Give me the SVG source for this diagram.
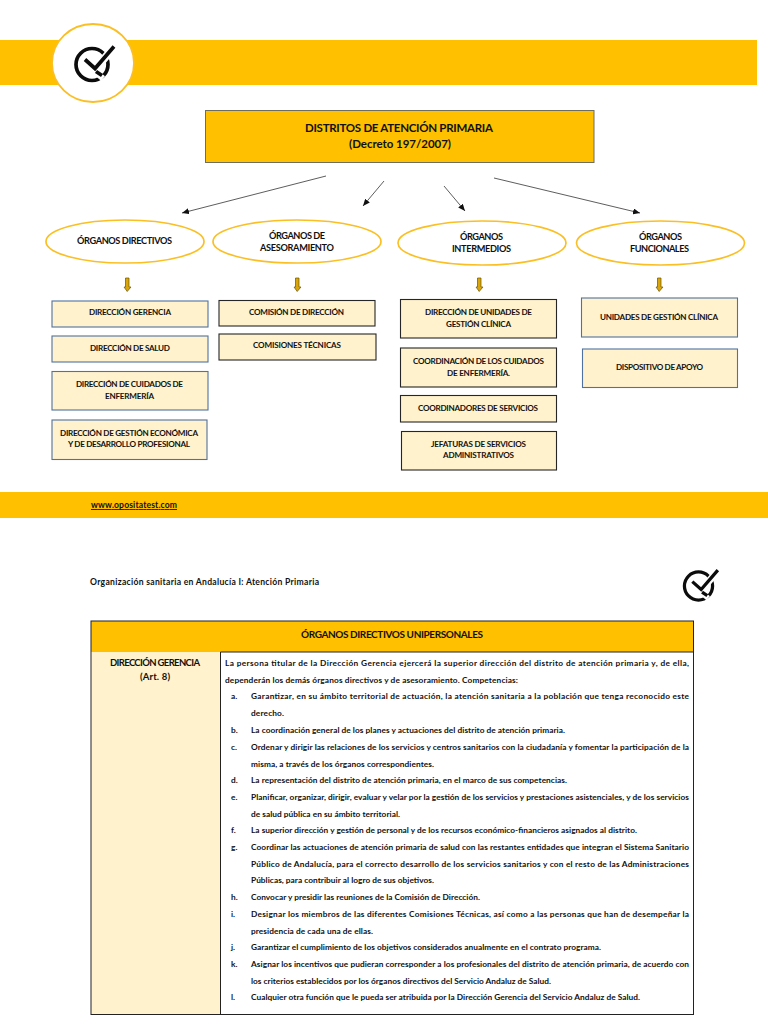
<svg xmlns="http://www.w3.org/2000/svg" width="768" height="1024" viewBox="0 0 768 1024">
<style>
text{font-family:"Lato","Carlito","Liberation Sans",sans-serif;fill:#111}
.band{fill:#ffc000}
.oval{fill:#fff;stroke:#fbbf24;stroke-width:1.700}
.box{fill:#fff2cc;stroke-width:1.100}
.blue{stroke:#4f72a0}
.dark{stroke:#262626}
.l{font-size:8.3px;font-weight:700}
.o{font-size:9.2px;font-weight:700}
.t{font-size:11.5px;font-weight:700}
.b{font-size:8.1px;font-weight:700}
.link{fill:none;stroke:#333;stroke-width:.8;marker-end:url(#tip)}
.drop{fill:#d9a50b;stroke:#6b5300;stroke-width:.7}
.logo{fill:none;stroke:#0c0c0c;stroke-width:3.700}
</style>
<defs>
<marker id="tip" markerWidth="8" markerHeight="6" refX="7" refY="3" orient="auto" markerUnits="userSpaceOnUse"><path d="M0 0L7 3L0 6z" fill="#111"/></marker>
<g id="check"><circle class="logo" cx="0" cy="0" r="16"/><path d="M-6-4L3 5L24-20" fill="none" stroke="#fff" stroke-width="8"/><path d="M4 8L11 14" fill="none" stroke="#fff" stroke-width="6"/><path class="logo" d="M-7-5L3 4L22-18M4 7L10 11"/></g>
</defs>

<rect class="band" x="0" y="40" width="757" height="45"/>
<rect class="band" x="0" y="492" width="768" height="26"/>
<g id="logo-top"><ellipse cx="93" cy="63" rx="41" ry="39" fill="#fff" stroke="#fbbf24" stroke-width="1.800"/><use href="#check" transform="translate(92 64.500)"/></g>

<g id="title"><rect x="205.500" y="110.500" width="388.500" height="52" fill="#ffc000" stroke="#6e6e5e" stroke-width="1"/>
<text class="t" x="305" y="132" textLength="188">DISTRITOS DE ATENCIÓN PRIMARIA</text>
<text class="t" x="349" y="148" textLength="102">(Decreto 197/2007)</text></g>

<g id="connectors">
<path class="link" d="M326 176L182 213"/><path class="link" d="M384 181L363 206"/><path class="link" d="M444 186L465 211"/><path class="link" d="M494 178L640 213"/>
<path class="drop" d="M125.500 278H129V287H131L127.200 291.500L124 287H125.500z"/>
<path class="drop" d="M295.500 278H299V287H301L297.200 291.500L294 287H295.500z"/>
<path class="drop" d="M477.500 278H481V287H483L479.200 291.500L476 287H477.500z"/>
<path class="drop" d="M657.500 278H661V287H663L659.200 291.500L656 287H657.500z"/>
</g>

<g id="org-directivos"><ellipse class="oval" cx="125" cy="241.500" rx="79" ry="21.500"/><text class="o" x="77" y="244" textLength="95">ÓRGANOS DIRECTIVOS</text></g>
<g id="org-asesoramiento"><ellipse class="oval" cx="297" cy="241.500" rx="84" ry="21.500"/><text class="o" x="269" y="239" textLength="56">ÓRGANOS DE</text><text class="o" x="260" y="251" textLength="74">ASESORAMIENTO</text></g>
<g id="org-intermedios"><ellipse class="oval" cx="482" cy="243" rx="84" ry="22"/><text class="o" x="460" y="240" textLength="43">ÓRGANOS</text><text class="o" x="452" y="252" textLength="59">INTERMEDIOS</text></g>
<g id="org-funcionales"><ellipse class="oval" cx="660.500" cy="243" rx="84" ry="22"/><text class="o" x="639" y="240" textLength="43">ÓRGANOS</text><text class="o" x="630" y="252" textLength="59">FUNCIONALES</text></g>

<g id="d-gerencia"><rect class="box blue" x="52" y="301" width="156" height="26"/><text class="b" x="89" y="315" textLength="82">DIRECCIÓN GERENCIA</text></g>
<g id="d-salud"><rect class="box blue" x="52" y="336" width="156" height="26"/><text class="b" x="90" y="351" textLength="80">DIRECCIÓN DE SALUD</text></g>
<g id="d-cuidados"><rect class="box blue" x="52" y="371.500" width="156" height="38.500"/><text class="b" x="76" y="387" textLength="107">DIRECCIÓN DE CUIDADOS DE</text><text class="b" x="105" y="398.500" textLength="49">ENFERMERÍA</text></g>
<g id="d-gestion"><rect class="box blue" x="52" y="420" width="155" height="39.500"/><text class="b" x="60" y="435.500" textLength="138">DIRECCIÓN DE GESTIÓN ECONÓMICA</text><text class="b" x="68" y="447" textLength="122">Y DE DESARROLLO PROFESIONAL</text></g>
<g id="a-comision"><rect class="box dark" x="219" y="300.500" width="156" height="25.500"/><text class="b" x="249" y="315" textLength="95">COMISIÓN DE DIRECCIÓN</text></g>
<g id="a-tecnicas"><rect class="box dark" x="219" y="334" width="157" height="26"/><text class="b" x="253" y="348" textLength="88">COMISIONES TÉCNICAS</text></g>
<g id="i-unidades"><rect class="box dark" x="400.500" y="299.500" width="156" height="38.500"/><text class="b" x="425" y="315" textLength="107">DIRECCIÓN DE UNIDADES DE</text><text class="b" x="446" y="327" textLength="65">GESTIÓN CLÍNICA</text></g>
<g id="i-coordinacion"><rect class="box dark" x="400.500" y="348" width="156" height="39"/><text class="b" x="413" y="364" textLength="131">COORDINACIÓN DE LOS CUIDADOS</text><text class="b" x="447" y="376" textLength="63">DE ENFERMERÍA.</text></g>
<g id="i-coordinadores"><rect class="box dark" x="400.500" y="395.500" width="156" height="26.500"/><text class="b" x="418" y="411" textLength="120">COORDINADORES DE SERVICIOS</text></g>
<g id="i-jefaturas"><rect class="box dark" x="401.500" y="431.500" width="155" height="38.500"/><text class="b" x="431" y="447" textLength="95">JEFATURAS DE SERVICIOS</text><text class="b" x="443" y="458" textLength="71">ADMINISTRATIVOS</text></g>
<g id="f-unidades"><rect class="box blue" x="581.500" y="298" width="156" height="39"/><text class="b" x="600" y="319.500" textLength="118">UNIDADES DE GESTIÓN CLÍNICA</text></g>
<g id="f-dispositivo"><rect class="box blue" x="582.500" y="349" width="155" height="38.500"/><text class="b" x="616" y="370" textLength="87">DISPOSITIVO DE APOYO</text></g>

<text x="91" y="508" font-size="8.600" font-weight="700" text-decoration="underline" textLength="86">www.opositatest.com</text>
<text x="90" y="585" font-size="8.600" font-weight="700" textLength="229">Organización sanitaria en Andalucía I: Atención Primaria</text>
<g id="logo-page"><use href="#check" transform="translate(698.500 586) scale(.88)"/></g>

<g id="table">
<rect x="91" y="621" width="602.500" height="31" fill="#ffc000"/>
<rect x="91" y="652" width="129.500" height="362.500" fill="#fff2cc"/>
<rect x="220.500" y="652" width="473" height="362.500" fill="#fff"/>
<rect x="91" y="621" width="602.500" height="393.500" fill="none" stroke="#222" stroke-width="1"/>
<path d="M220.500 652H693.500M220.500 652V1014.500" fill="none" stroke="#222" stroke-width="1"/>
<text x="301" y="637.500" font-size="10" font-weight="700" textLength="182">ÓRGANOS DIRECTIVOS UNIPERSONALES</text>
<text x="110" y="666" font-size="9.500" font-weight="700" textLength="90">DIRECCIÓN GERENCIA</text>
<text x="140" y="680" font-size="9.500" font-weight="700" textLength="30">(Art. 8)</text>
<g class="lines">
<text class="l" x="225" y="666" textLength="464">La persona titular de la Dirección Gerencia ejercerá la superior dirección del distrito de atención primaria y, de ella,</text>
<text class="l" x="225" y="683" textLength="293">dependerán los demás órganos directivos y de asesoramiento. Competencias:</text>
<text class="l" x="231" y="699">a.</text><text class="l" x="251" y="699" textLength="438">Garantizar, en su ámbito territorial de actuación, la atención sanitaria a la población que tenga reconocido este</text>
<text class="l" x="251" y="716" textLength="33">derecho.</text>
<text class="l" x="231" y="733">b.</text><text class="l" x="251" y="733" textLength="314">La coordinación general de los planes y actuaciones del distrito de atención primaria.</text>
<text class="l" x="231" y="750">c.</text><text class="l" x="251" y="750" textLength="438">Ordenar y dirigir las relaciones de los servicios y centros sanitarios con la ciudadanía y fomentar la participación de la</text>
<text class="l" x="251" y="767" textLength="183">misma, a través de los órganos correspondientes.</text>
<text class="l" x="231" y="783">d.</text><text class="l" x="251" y="783" textLength="316">La representación del distrito de atención primaria, en el marco de sus competencias.</text>
<text class="l" x="231" y="800">e.</text><text class="l" x="251" y="800" textLength="438">Planificar, organizar, dirigir, evaluar y velar por la gestión de los servicios y prestaciones asistenciales, y de los servicios</text>
<text class="l" x="251" y="817" textLength="149">de salud pública en su ámbito territorial.</text>
<text class="l" x="231" y="833">f.</text><text class="l" x="251" y="833" textLength="386">La superior dirección y gestión de personal y de los recursos económico-financieros asignados al distrito.</text>
<text class="l" x="231" y="850">g.</text><text class="l" x="251" y="850" textLength="438">Coordinar las actuaciones de atención primaria de salud con las restantes entidades que integran el Sistema Sanitario</text>
<text class="l" x="251" y="867" textLength="438">Público de Andalucía, para el correcto desarrollo de los servicios sanitarios y con el resto de las Administraciones</text>
<text class="l" x="251" y="883" textLength="183">Públicas, para contribuir al logro de sus objetivos.</text>
<text class="l" x="231" y="900">h.</text><text class="l" x="251" y="900" textLength="229">Convocar y presidir las reuniones de la Comisión de Dirección.</text>
<text class="l" x="231" y="917">i.</text><text class="l" x="251" y="917" textLength="438">Designar los miembros de las diferentes Comisiones Técnicas, así como a las personas que han de desempeñar la</text>
<text class="l" x="251" y="934" textLength="122">presidencia de cada una de ellas.</text>
<text class="l" x="231" y="950">j.</text><text class="l" x="251" y="950" textLength="350">Garantizar el cumplimiento de los objetivos considerados anualmente en el contrato programa.</text>
<text class="l" x="231" y="967">k.</text><text class="l" x="251" y="967" textLength="438">Asignar los incentivos que pudieran corresponder a los profesionales del distrito de atención primaria, de acuerdo con</text>
<text class="l" x="251" y="984" textLength="300">los criterios establecidos por los órganos directivos del Servicio Andaluz de Salud.</text>
<text class="l" x="231" y="1000">l.</text><text class="l" x="251" y="1000" textLength="389">Cualquier otra función que le pueda ser atribuida por la Dirección Gerencia del Servicio Andaluz de Salud.</text>
</g>
</g>
</svg>
